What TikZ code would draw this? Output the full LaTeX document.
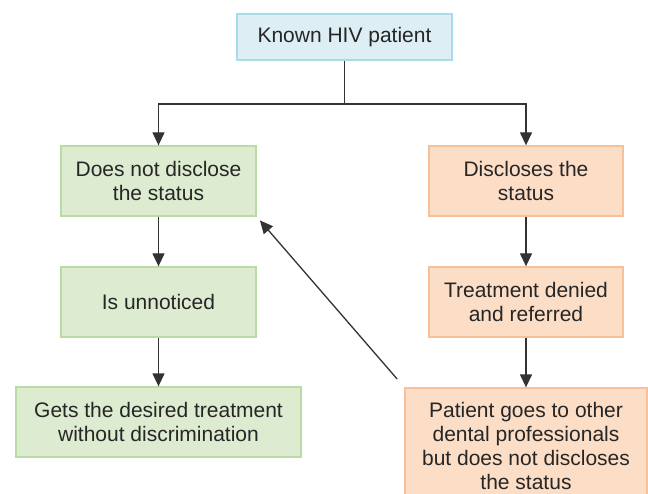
\documentclass[tikz,border=0pt]{standalone}
\usepackage{fontspec}
\setmainfont{Liberation Sans}
\usetikzlibrary{arrows.meta}
\definecolor{bluefill}{HTML}{DDEEF5}
\definecolor{blueline}{HTML}{A9DCEA}
\definecolor{greenfill}{HTML}{DDEBD1}
\definecolor{greenline}{HTML}{B8DCA4}
\definecolor{orangefill}{HTML}{FCDDC6}
\definecolor{orangeline}{HTML}{F8C098}
\definecolor{inkline}{HTML}{333333}
\tikzset{
  box/.style={draw, line width=1.3pt, align=center, inner sep=0pt,
    font=\fontsize{21}{24}\selectfont, text=black!85},
  bluebox/.style={box, draw=blueline, fill=bluefill},
  greenbox/.style={box, draw=greenline, fill=greenfill},
  orangebox/.style={box, draw=orangeline, fill=orangefill},
  link/.style={draw=inkline, line width=1.3pt},
  arrow/.style={link, -{Triangle[width=12pt,length=13pt]}}
}
\begin{document}
\begin{tikzpicture}[x=1pt, y=-1pt]
      \useasboundingbox (0, 0) rectangle (648, 494);
      \node[bluebox, minimum width=215, minimum height=46] (patient) at (344.5, 37) {Known HIV patient};
      \node[greenbox, minimum width=195, minimum height=70] (hide) at (158.5, 181) {Does not disclose\\the status};
      \node[greenbox, minimum width=195, minimum height=70] (unnoticed) at (158.5, 302) {Is unnoticed};
      \node[greenbox, minimum width=285, minimum height=70] (treated) at (158.5, 422) {Gets the desired treatment\\without discrimination};
      \node[orangebox, minimum width=194, minimum height=70] (disclose) at (526, 181) {Discloses the\\status};
      \node[orangebox, minimum width=194, minimum height=70] (denied) at (526, 302) {Treatment denied\\and referred};
      \node[orangebox, minimum width=242, minimum height=116] (other) at (526, 446) {Patient goes to other\\dental professionals\\but does not discloses\\the status};
      \coordinate (split) at (344.5, 104);
      \draw[link] (patient.south) -- (split);
      \draw[arrow] (split) -| (hide.north);
      \draw[arrow] (split) -| (disclose.north);
      \draw[arrow] (hide) -- (unnoticed);
      \draw[arrow] (unnoticed) -- (treated);
      \draw[arrow] (disclose) -- (denied);
      \draw[arrow] (denied) -- (other);
      \draw[arrow, shorten <=11pt, shorten >=5pt] (other.north west) -- (hide.south east);
    \end{tikzpicture}
\end{document}
